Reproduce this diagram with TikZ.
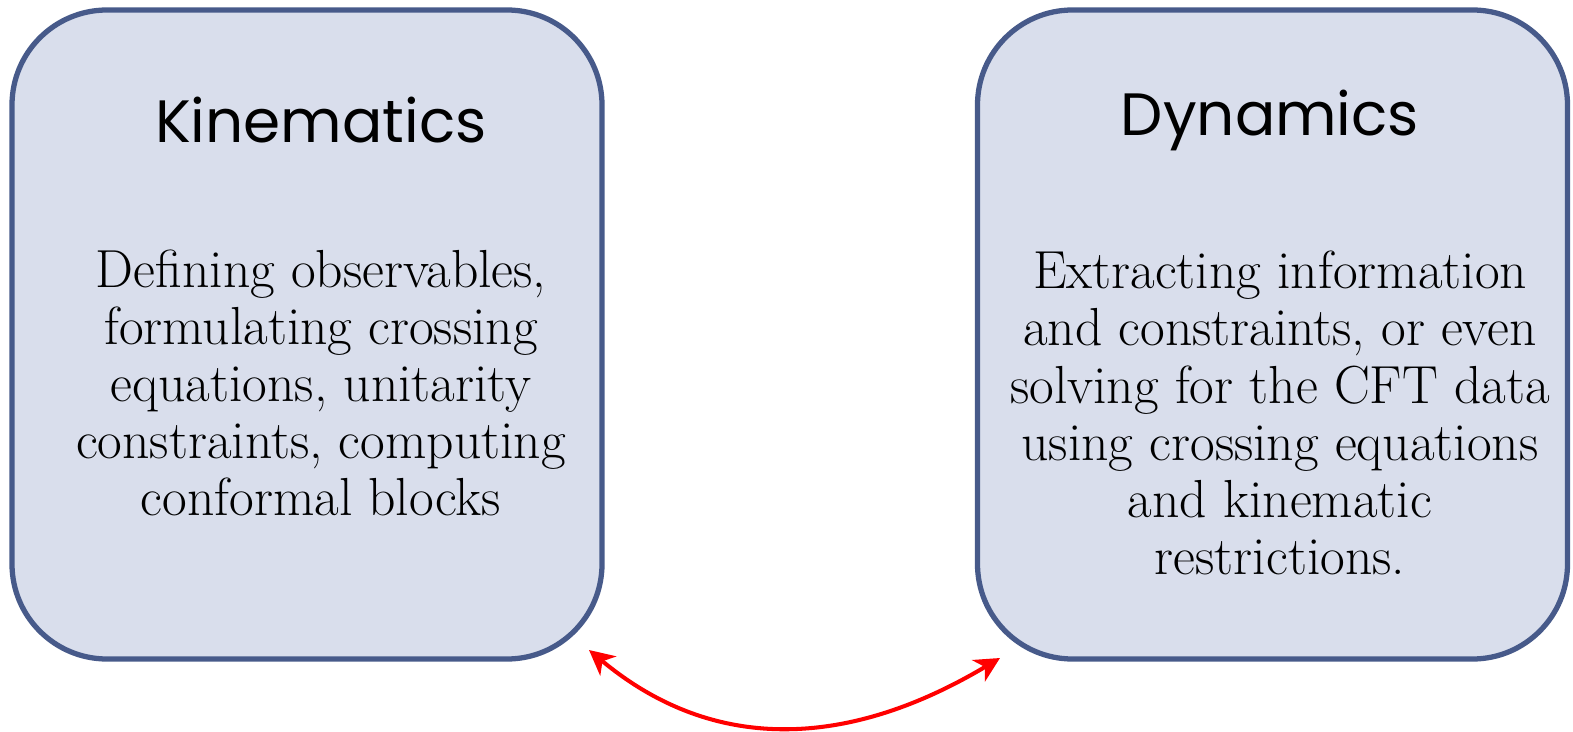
\documentclass[tikz,border=0pt]{standalone}
\usepackage{fontspec}
\newfontfamily\titlefont{Poppins}
\usetikzlibrary{positioning}
\usetikzlibrary{arrows.meta}
\usetikzlibrary{math}
\definecolor{boxfill}{HTML}{D9DEEC}
\definecolor{boxline}{HTML}{475A8A}
\tikzset{
  topicbox/.style={draw=boxline, fill=boxfill, line width=3pt,
    rounded corners=1.9cm, minimum width=11.8cm, minimum height=12.98cm},
  topictitle/.style={font=\titlefont\fontsize{34}{40}\selectfont},
  topictext/.style={align=center, font=\fontsize{30.5}{32.5}\selectfont},
}

\begin{document}
\begin{tikzpicture}[
  >=Stealth,
  scale=1.00,
]

  \useasboundingbox (0,0) rectangle (31.46,-14.64);

  \coordinate (kinbase) at ( 6.14,  -6.69 );
  \coordinate (dynbase) at ( 25.45, -6.69 );

  \coordinate (arrleft)  at ( 11.78, -13.00 );
  \coordinate (arrright) at ( 20.00, -13.16 );

  % Boxes
  \node[topicbox] (kin) at (kinbase) {};
  \node[topicbox] (dyn) at (dynbase) {};

  % Titles
  \node[topictitle] (kintitle) at (6.42, -2.40) {Kinematics};
  \node[topictitle] (dyntitle) at (25.40, -2.40) {Dynamics};

  % Descriptions
  \node[topictext] (kintext) at (6.42, -7.66)
    {Defining observables,\\formulating crossing\\equations, unitarity\\constraints, computing\\conformal blocks};
  \node[topictext] (dyntext) at (25.60, -8.26)
    {Extracting information\\and constraints, or even\\solving for the CFT data\\using crossing equations\\and kinematic\\restrictions.};

  % Two-way arrow
  \draw[red, line width=2.3pt, arrows={Stealth[length=0.5cm, width=0.5cm, inset=0.15cm]-Stealth[length=0.5cm, width=0.5cm, inset=0.15cm]}]
    (arrleft) .. controls (14.3, -15.1) and (17.0, -14.95) .. (arrright);

\end{tikzpicture}
\end{document}
